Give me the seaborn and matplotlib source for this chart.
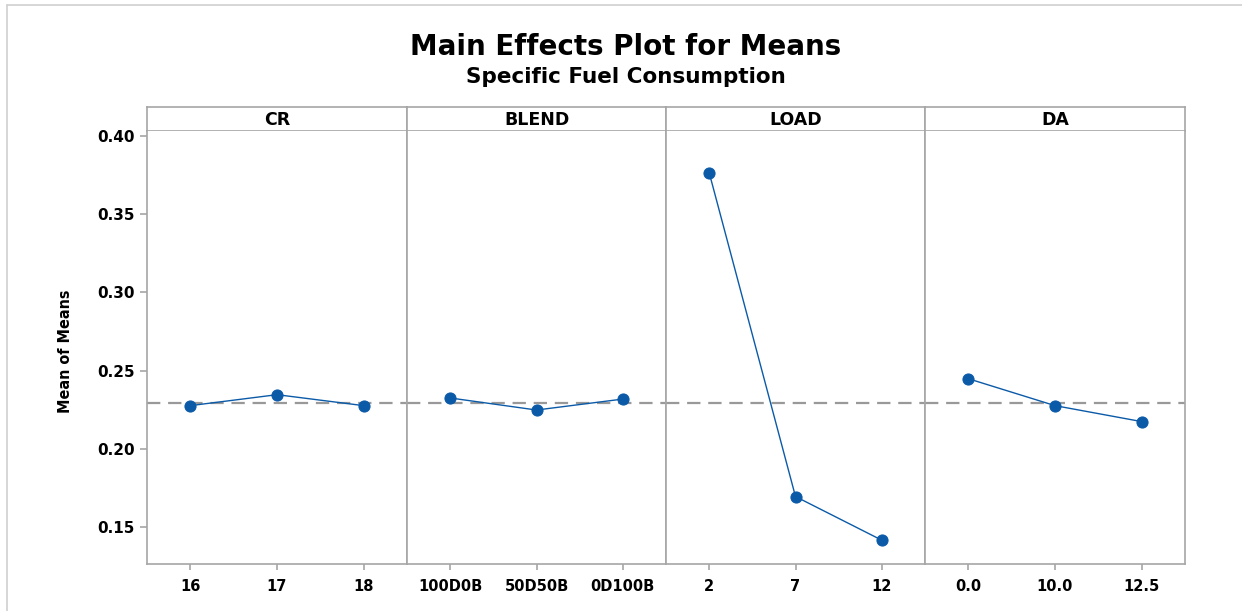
import pandas as pd
import matplotlib.pyplot as plt
import seaborn as sns

# factor levels and the mean SFC
factors = ["CR", "BLEND", "LOAD", "DA"]
cr_levels = ["16", "17", "18"]
cr_means = [0.2277, 0.2347, 0.2277]
blend_levels = ["100D0B", "50D50B", "0D100B"]
blend_means = [0.2326, 0.2249, 0.2319]
load_levels = ["2", "7", "12"]
load_means = [0.3766, 0.1696, 0.1417]
da_levels = ["0.0", "10.0", "12.5"]
da_means = [0.2449, 0.2277, 0.2175]
grand_mean = 0.2297
y_ticks = [0.15, 0.20, 0.25, 0.30, 0.35, 0.40]

W, H = 1242, 611
LINE = "#0b5aa8"
GREY = "#a6a6a6"

sns.set_theme(style="white")
plt.rcParams["font.family"] = ["DejaVu Sans"]
plt.rcParams["text.color"] = "black"


def px_rect(x0, y0, x1, y1):
    # pixel box (top-left origin) -> figure fraction rect
    return [x0 / W, (H - y1) / H, (x1 - x0) / W, (y1 - y0) / H]


def style_axes(ax):
    for side, sp in ax.spines.items():
        sp.set_color(GREY)
        sp.set_linewidth(1.2)
    ax.set_facecolor("white")


def draw_panel(ax, levels, means, first):
    df = pd.DataFrame({"level": levels, "mean": means})
    sns.pointplot(data=df, x="level", y="mean", order=levels, color=LINE,
                  markers="o", markersize=8, linewidth=1.0, errorbar=None, ax=ax)
    ax.axhline(grand_mean, color="#999999", lw=1.6, ls=(0, (6, 3.5)), zorder=0)
    ax.set_xlim(-0.5, 2.5)
    ax.set_ylim(0.1265, 0.4032)
    ax.set_xlabel("")
    ax.set_ylabel("")
    style_axes(ax)
    ax.spines["top"].set_visible(False)
    ax.tick_params(axis="x", bottom=True, length=4, width=1.2, color=GREY,
                   labelcolor="black", labelsize=10.5, pad=7)
    for t in ax.get_xticklabels():
        t.set_fontweight("bold")
    ax.set_yticks(y_ticks)
    if first:
        ax.set_yticklabels([f"{v:.2f}" for v in y_ticks], fontsize=11,
                           fontweight="bold")
        ax.tick_params(axis="y", left=True, length=5, width=1.2, color=GREY,
                       labelcolor="black", pad=4)
    else:
        ax.tick_params(axis="y", left=False, labelleft=False)
    ax.grid(False)


fig = plt.figure(figsize=(W / 100, H / 100), dpi=100)
fig.patch.set_facecolor("white")

# thin frame lines along top and left of the image
fig.add_artist(plt.Line2D([7 / W, 1], [1 - 5 / H, 1 - 5 / H], color="#d0d0d0", lw=1.2))
fig.add_artist(plt.Line2D([7 / W, 7 / W], [0, 1 - 5 / H], color="#d0d0d0", lw=1.2))

edges = [147, 407, 666, 925, 1185]
panels = [(cr_levels, cr_means), (blend_levels, blend_means),
          (load_levels, load_means), (da_levels, da_means)]

for i, name in enumerate(factors):
    x0, x1 = edges[i], edges[i + 1]
    hax = fig.add_axes(px_rect(x0, 107, x1, 131))
    style_axes(hax)
    hax.set_xticks([])
    hax.set_yticks([])
    hax.text(0.5, 0.45, name, ha="center", va="center", fontsize=12.5,
             fontweight="bold", transform=hax.transAxes)

    ax = fig.add_axes(px_rect(x0, 131, x1, 564))
    draw_panel(ax, panels[i][0], panels[i][1], first=(i == 0))

fig.text(626 / W, 1 - 47 / H, "Main Effects Plot for Means", ha="center",
         va="center", fontsize=20, fontweight="bold")
fig.text(626 / W, 1 - 77 / H, "Specific Fuel Consumption", ha="center",
         va="center", fontsize=15.5, fontweight="bold")
fig.text(66 / W, 1 - 351 / H, "Mean of Means", ha="center", va="center",
         rotation=90, fontsize=11.5, fontweight="bold", fontstretch="condensed")

fig.savefig("out.png", dpi=100, facecolor="white")
